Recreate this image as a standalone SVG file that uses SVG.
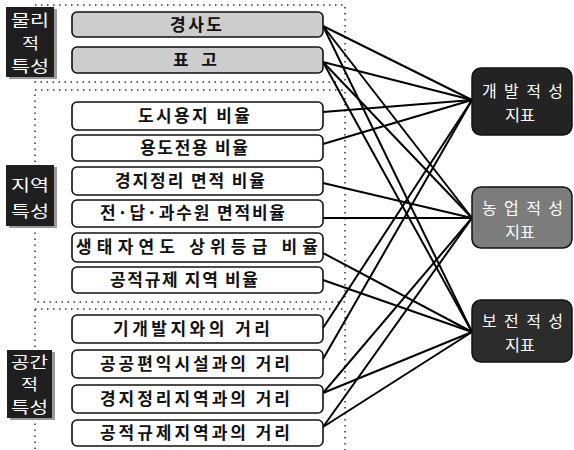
<svg xmlns="http://www.w3.org/2000/svg" width="574" height="450" viewBox="0 0 574 450">
<style>
.region{fill:none;stroke:#333;stroke-width:1.5;stroke-dasharray:1.5 4.5}
.item rect{fill:#fff;stroke:#111;stroke-width:1.6}
.item.gray rect{fill:#cdcdcd}
.item text{font-family:"Noto Sans CJK KR","Noto Sans",sans-serif;font-size:17px;font-weight:bold;fill:#111}
.cat .sh{fill:#9a9a9a}
.cat .bx{fill:#1e1e1e}
.cat text{font-family:"Noto Sans CJK KR","Noto Sans",sans-serif;font-size:15.5px;fill:#fff}
.idx rect{stroke:#111;stroke-width:1.5}
.idx text{font-family:"Noto Sans CJK KR","Noto Sans",sans-serif;font-size:16px;fill:#fff}
.conn line{stroke:#000;stroke-width:2}
</style>
<rect width="574" height="450" fill="#fff"/>
<g id="regions">
<rect class="region" x="35" y="5" width="310" height="77"/>
<rect class="region" x="35" y="90" width="310" height="212"/>
<rect class="region" x="35" y="309" width="310" height="150"/>
</g>
<g id="connectors" class="conn">
<line x1="323" y1="26" x2="472" y2="100"/>
<line x1="323" y1="26" x2="472" y2="218"/>
<line x1="323" y1="26" x2="472" y2="332"/>
<line x1="323" y1="62" x2="472" y2="100"/>
<line x1="323" y1="62" x2="472" y2="218"/>
<line x1="323" y1="62" x2="472" y2="332"/>
<line x1="323" y1="112" x2="472" y2="100"/>
<line x1="323" y1="144" x2="472" y2="100"/>
<line x1="323" y1="183" x2="472" y2="218"/>
<line x1="323" y1="218" x2="472" y2="218"/>
<line x1="323" y1="253" x2="472" y2="332"/>
<line x1="323" y1="280" x2="472" y2="332"/>
<line x1="323" y1="328" x2="472" y2="100"/>
<line x1="323" y1="359" x2="472" y2="100"/>
<line x1="323" y1="393" x2="472" y2="218"/>
<line x1="323" y1="393" x2="472" y2="332"/>
<line x1="323" y1="427" x2="472" y2="218"/>
<line x1="323" y1="427" x2="472" y2="332"/>
</g>
<g id="cat-physical" class="cat">
<rect class="sh" x="9" y="9" width="48" height="70"/>
<rect class="bx" x="6" y="7" width="48" height="70"/>
<text x="11" y="26" textLength="38" lengthAdjust="spacingAndGlyphs">물리</text>
<text x="22" y="49" textLength="17" lengthAdjust="spacingAndGlyphs">적</text>
<text x="11" y="72" textLength="38" lengthAdjust="spacingAndGlyphs">특성</text>
</g>
<g id="cat-regional" class="cat">
<rect class="sh" x="9" y="167" width="48" height="61"/>
<rect class="bx" x="6" y="165" width="48" height="61"/>
<text x="11" y="191" textLength="38" lengthAdjust="spacingAndGlyphs">지역</text>
<text x="11" y="217" textLength="38" lengthAdjust="spacingAndGlyphs">특성</text>
</g>
<g id="cat-spatial" class="cat">
<rect class="sh" x="10" y="352" width="45" height="68"/>
<rect class="bx" x="7" y="350" width="45" height="68"/>
<text x="11" y="368" textLength="37" lengthAdjust="spacingAndGlyphs">공간</text>
<text x="21" y="390" textLength="17" lengthAdjust="spacingAndGlyphs">적</text>
<text x="11" y="413" textLength="37" lengthAdjust="spacingAndGlyphs">특성</text>
</g>
<g id="item-slope" class="item gray">
<rect x="72" y="12" width="251" height="25" rx="5"/>
<text x="170" y="31" textLength="52" lengthAdjust="spacing">경사도</text>
</g>
<g id="item-elevation" class="item gray">
<rect x="72" y="47" width="251" height="26" rx="5"/>
<text x="173" y="66" textLength="44" lengthAdjust="spacing">표 고</text>
</g>
<g id="item-urban" class="item">
<rect x="72" y="102" width="251" height="28" rx="5"/>
<text x="138" y="122" textLength="112" lengthAdjust="spacing">도시용지 비율</text>
</g>
<g id="item-conversion" class="item">
<rect x="72" y="135" width="251" height="26" rx="5"/>
<text x="140" y="154" textLength="108" lengthAdjust="spacing">용도전용 비율</text>
</g>
<g id="item-consolidation-area" class="item">
<rect x="72" y="167" width="251" height="28" rx="5"/>
<text x="115" y="187" textLength="150" lengthAdjust="spacing">경지정리 면적 비율</text>
</g>
<g id="item-farmland" class="item">
<rect x="72" y="200" width="251" height="27" rx="5"/>
<text x="100" y="219" textLength="185" lengthAdjust="spacing">전·답·과수원 면적비율</text>
</g>
<g id="item-ecology" class="item">
<rect x="72" y="233" width="251" height="29" rx="5"/>
<text x="76" y="253" textLength="242" lengthAdjust="spacing">생태자연도 상위등급 비율</text>
</g>
<g id="item-regulation-area" class="item">
<rect x="72" y="267" width="251" height="26" rx="5"/>
<text x="110" y="286" textLength="148" lengthAdjust="spacing">공적규제 지역 비율</text>
</g>
<g id="item-dist-developed" class="item">
<rect x="72" y="315" width="251" height="28" rx="5"/>
<text x="113" y="335" textLength="157" lengthAdjust="spacing">기개발지와의 거리</text>
</g>
<g id="item-dist-public" class="item">
<rect x="72" y="350" width="251" height="28" rx="5"/>
<text x="100" y="370" textLength="190" lengthAdjust="spacing">공공편익시설과의 거리</text>
</g>
<g id="item-dist-consolidation" class="item">
<rect x="72" y="385" width="251" height="28" rx="5"/>
<text x="100" y="405" textLength="190" lengthAdjust="spacing">경지정리지역과의 거리</text>
</g>
<g id="item-dist-regulation" class="item">
<rect x="72" y="420" width="251" height="26" rx="5"/>
<text x="100" y="439" textLength="190" lengthAdjust="spacing">공적규제지역과의 거리</text>
</g>
<g id="idx-development" class="idx">
<rect x="472" y="68" width="100" height="67" rx="9" fill="#232323"/>
<text x="482" y="97" textLength="81" lengthAdjust="spacing">개발적성</text>
<text x="505" y="121" textLength="30" lengthAdjust="spacingAndGlyphs">지표</text>
</g>
<g id="idx-agriculture" class="idx">
<rect x="472" y="187" width="100" height="61" rx="9" fill="#7c7c7c"/>
<text x="482" y="214" textLength="81" lengthAdjust="spacing">농업적성</text>
<text x="505" y="238" textLength="30" lengthAdjust="spacingAndGlyphs">지표</text>
</g>
<g id="idx-conservation" class="idx">
<rect x="472" y="300" width="100" height="62" rx="9" fill="#2c2c2c"/>
<text x="482" y="327" textLength="81" lengthAdjust="spacing">보전적성</text>
<text x="505" y="351" textLength="30" lengthAdjust="spacingAndGlyphs">지표</text>
</g>
</svg>
